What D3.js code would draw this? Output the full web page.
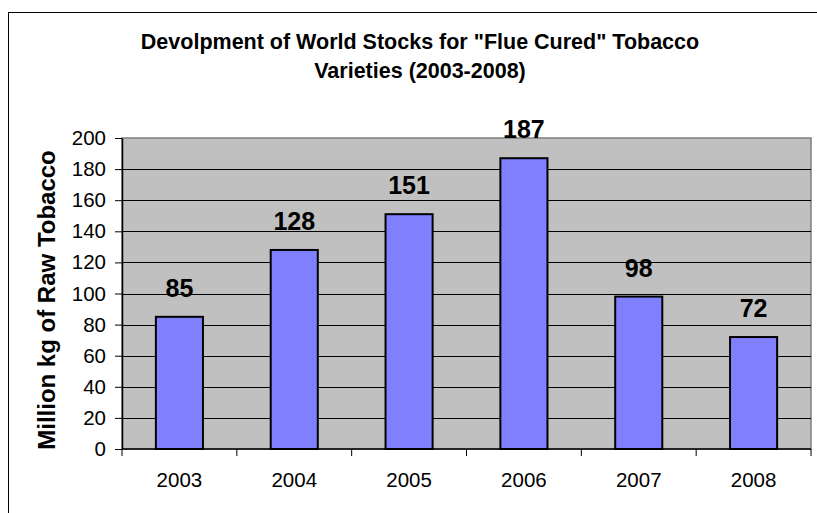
<!DOCTYPE html>
<html>
<head>
<meta charset="utf-8">
<script src="https://cdn.jsdelivr.net/npm/d3@7"></script>
<style>
  html, body { margin: 0; padding: 0; background: #fff; }
  svg { display: block; font-family: "Liberation Sans", Arial, sans-serif; }
</style>
</head>
<body>
<svg id="chart" width="817" height="513"></svg>
<script>
// Flue-cured tobacco world stocks, million kg
const years = ["2003", "2004", "2005", "2006", "2007", "2008"];
const stocks = [85, 128, 151, 187, 98, 72];
const yTicks = [0, 20, 40, 60, 80, 100, 120, 140, 160, 180, 200];
const titleLines = ["Devolpment of World Stocks for \"Flue Cured\" Tobacco", "Varieties (2003-2008)"];
const yTitle = "Million kg of Raw Tobacco";

const svg = d3.select("#chart");
const plot = { left: 122, right: 811, top: 138, bottom: 449 };

// chart frame
svg.append("rect")
  .attr("x", 8.5).attr("y", 12.5)
  .attr("width", 830).attr("height", 530)
  .attr("fill", "#fff").attr("stroke", "#000").attr("stroke-width", 1);

const x = d3.scaleBand().domain(years).range([plot.left, plot.right]).padding(0);
const y = d3.scaleLinear().domain([0, 200]).range([plot.bottom, plot.top]);
const barW = x.bandwidth() * 0.41;

// plot area
svg.append("rect")
  .attr("x", plot.left).attr("y", plot.top)
  .attr("width", plot.right - plot.left).attr("height", plot.bottom - plot.top)
  .attr("fill", "#c0c0c0").attr("stroke", "#808080").attr("stroke-width", 1.5);

// gridlines
svg.append("g")
  .selectAll("line")
  .data(yTicks.filter(t => t > 0 && t < 200))
  .join("line")
  .attr("x1", plot.left).attr("x2", plot.right)
  .attr("y1", d => Math.round(y(d)) + 0.5).attr("y2", d => Math.round(y(d)) + 0.5)
  .attr("stroke", "#000").attr("stroke-width", 1);

// bars
svg.append("g")
  .selectAll("rect")
  .data(years.map((yr, i) => ({ yr, v: stocks[i] })))
  .join("rect")
  .attr("x", d => x(d.yr) + (x.bandwidth() - barW) / 2)
  .attr("y", d => y(d.v))
  .attr("width", barW)
  .attr("height", d => y(0) - y(d.v))
  .attr("fill", "#8080ff")
  .attr("stroke", "#000")
  .attr("stroke-width", 2);

// value labels
svg.append("g")
  .selectAll("text")
  .data(years.map((yr, i) => ({ yr, v: stocks[i] })))
  .join("text")
  .attr("x", d => x(d.yr) + x.bandwidth() / 2)
  .attr("y", d => y(d.v) - 20)
  .attr("text-anchor", "middle")
  .attr("font-size", 25)
  .attr("font-weight", "bold")
  .attr("fill", "#000")
  .text(d => d.v);

// y axis
const yAxis = svg.append("g")
  .attr("transform", `translate(${plot.left},0)`)
  .call(d3.axisLeft(y).tickValues(yTicks).tickSize(7).tickPadding(9).tickSizeOuter(0));
yAxis.select(".domain").attr("stroke", "#000").attr("stroke-width", 1.5);
yAxis.selectAll(".tick line").attr("stroke", "#000");
yAxis.selectAll(".tick text")
  .attr("font-size", 20.5)
  .attr("font-family", "Liberation Sans, Arial, sans-serif")
  .attr("fill", "#000");

// x axis: ticks sit on category boundaries
const xAxisG = svg.append("g").attr("transform", `translate(0,${plot.bottom})`);
xAxisG.append("line")
  .attr("x1", plot.left).attr("x2", plot.right)
  .attr("y1", 0).attr("y2", 0)
  .attr("stroke", "#000").attr("stroke-width", 1.5);
xAxisG.selectAll("line.tick")
  .data(years.map(yr => x(yr)).concat([plot.right]))
  .join("line")
  .attr("class", "tick")
  .attr("x1", d => d).attr("x2", d => d)
  .attr("y1", 0).attr("y2", 7)
  .attr("stroke", "#000");
xAxisG.selectAll("text")
  .data(years)
  .join("text")
  .attr("x", d => x(d) + x.bandwidth() / 2)
  .attr("y", 38)
  .attr("text-anchor", "middle")
  .attr("font-size", 20.5)
  .attr("fill", "#000")
  .text(d => d);

// y axis title
svg.append("text")
  .attr("transform", "translate(55,300) rotate(-90)")
  .attr("text-anchor", "middle")
  .attr("font-size", 24)
  .attr("font-weight", "bold")
  .attr("fill", "#000")
  .text(yTitle);

// chart title
svg.append("g")
  .selectAll("text")
  .data(titleLines)
  .join("text")
  .attr("x", 420)
  .attr("y", (d, i) => 49 + i * 29)
  .attr("text-anchor", "middle")
  .attr("font-size", 21.5)
  .attr("font-weight", "bold")
  .attr("fill", "#000")
  .text(d => d);
</script>
</body>
</html>
